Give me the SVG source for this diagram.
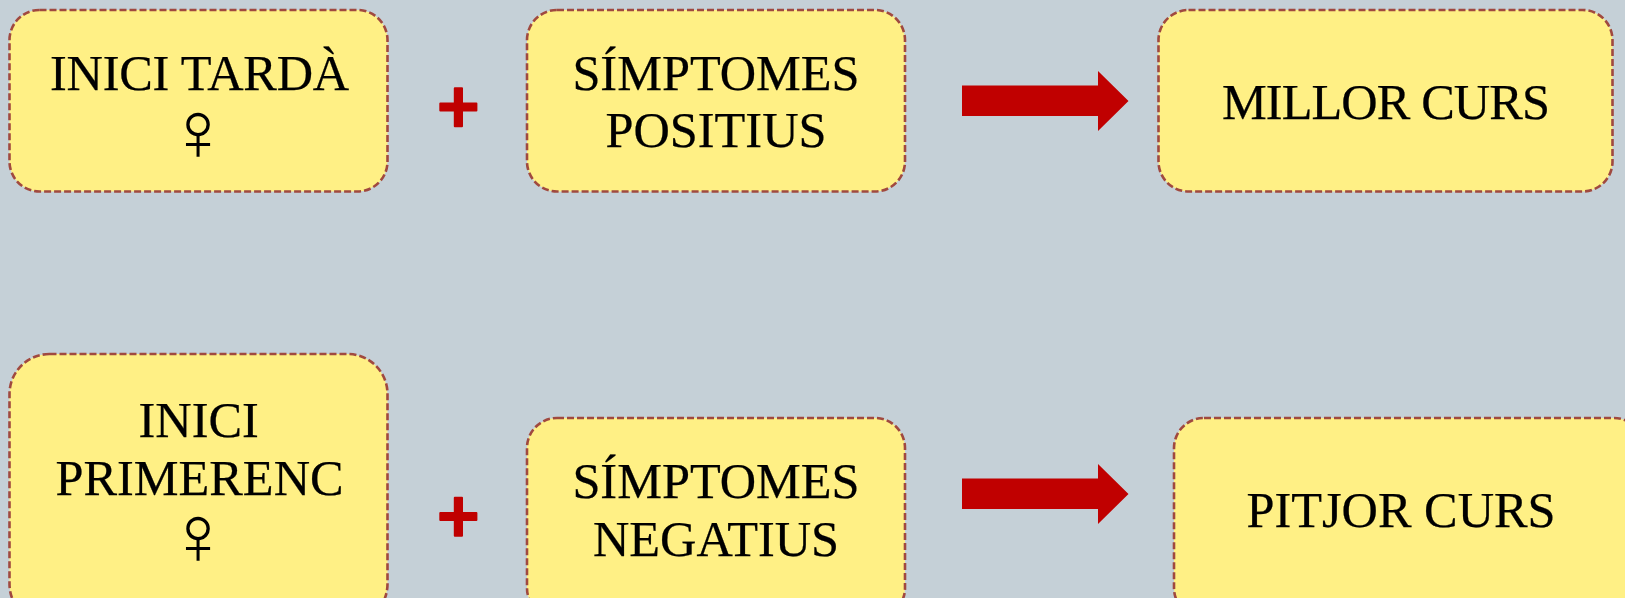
<svg xmlns="http://www.w3.org/2000/svg" width="1625" height="598" viewBox="0 0 1625 598">
<style>
.n{fill:#fff085;stroke:#a0493f;stroke-width:2.6;stroke-dasharray:7 3}
.t{font-family:"Liberation Serif",Times,serif;font-size:50.35px;fill:#000;stroke:#000;stroke-width:.25;text-anchor:middle}
.s{font-family:"Liberation Serif",Times,serif;font-size:84px;fill:#000;text-anchor:middle}
.r{fill:#c00000}
</style>
<rect width="1625" height="598" fill="#c5d0d7"/>
<g id="n1"><rect class="n" x="9.500" y="10" width="378" height="181.500" rx="30"/><text class="t" x="199.500" y="90.300" letter-spacing="-.2">INICI TARDÀ</text><text class="s" x="198.300" y="160">♀</text></g>
<g id="n2"><rect class="n" x="527" y="10" width="378" height="181.500" rx="30"/><text class="t" x="716" y="90.300">SÍMPTOMES</text><text class="t" x="716" y="147.300">POSITIUS</text></g>
<g id="n3"><rect class="n" x="1158.500" y="10" width="454" height="181.500" rx="30"/><text class="t" x="1385.500" y="119.300" letter-spacing="-.9">MILLOR CURS</text></g>
<g id="n4"><rect class="n" x="9.500" y="354" width="378" height="270" rx="40"/><text class="t" x="198.700" y="436.700">INICI</text><text class="t" x="199.500" y="495">PRIMERENC</text><text class="s" x="198.300" y="564">♀</text></g>
<g id="n5"><rect class="n" x="527" y="418" width="378" height="200" rx="30"/><text class="t" x="716" y="498.300">SÍMPTOMES</text><text class="t" x="716" y="556">NEGATIUS</text></g>
<g id="n6"><rect class="n" x="1174" y="418" width="470" height="200" rx="30"/><text class="t" x="1401" y="526.700">PITJOR CURS</text></g>
<g id="connectors">
<path class="r" d="M962 85.500H1098V71L1128.500 101L1098 131V116H962Z"/>
<path class="r" d="M962 478.500H1098V464L1128.500 494L1098 524V509H962Z"/>
<path id="plus1" class="r" d="M454.800 87.300h7.200a1 1 0 0 1 1 1v14.200h13.400a1 1 0 0 1 1 1v7a1 1 0 0 1-1 1h-13.400v14.800a1 1 0 0 1-1 1h-7.200a1 1 0 0 1-1-1v-14.800H440.300a1 1 0 0 1-1-1v-7a1 1 0 0 1 1-1h13.500V88.300a1 1 0 0 1 1-1z"/>
<use href="#plus1" y="409.400"/>
</g>
</svg>
